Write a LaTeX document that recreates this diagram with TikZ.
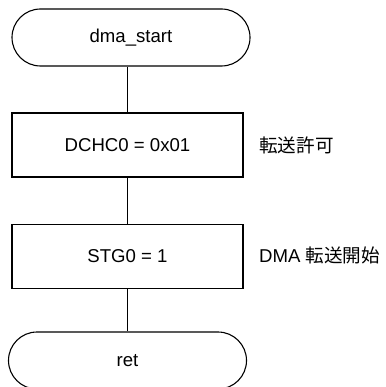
\documentclass[tikz,border=0pt]{standalone}
\usepackage{fontspec}
\setmainfont{Liberation Sans}
\newfontfamily\cjk{Noto Sans CJK JP}
\usetikzlibrary{shapes.misc}
\begin{document}
\begin{tikzpicture}[x=1pt,y=-1pt,
  every node/.style={font=\fontsize{18.6}{22}\selectfont},
  term/.style={draw,line width=1.1pt,rounded rectangle,minimum width=238pt,minimum height=57pt,inner sep=0pt},
  proc/.style={draw,line width=1.1pt,rectangle,minimum width=231pt,minimum height=64pt,inner sep=0pt},
  note/.style={anchor=west,inner sep=0pt},
  conn/.style={line width=1.1pt}]
\useasboundingbox (0,0) rectangle (385,387);
\clip (0,0) rectangle (385,387);
\node[term] (start) at (131,37.5) {dma\_start};
\node[proc] (p1) at (127.5,145) {DCHC0 = 0x01};
\node[proc] (p2) at (127.5,256.5) {STG0 = 1};
\node[term] (ret) at (127.5,360.5) {ret};
\node[note] (n1) at (259,145) {\cjk 転送許可};
\node[note] (n2) at (259,255) {DMA \cjk 転送開始};
\draw[conn] (p1.north) -- (p1.north |- start.south);
\draw[conn] (p1.south) -- (p2.north);
\draw[conn] (p2.south) -- (ret.north);
\end{tikzpicture}
\end{document}
